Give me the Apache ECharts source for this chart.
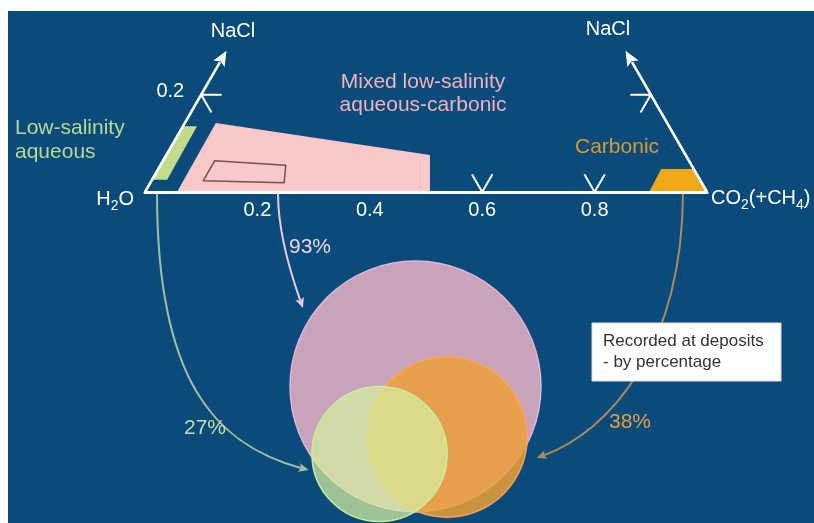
<!DOCTYPE html>
<html>
<head>
<meta charset="utf-8">
<script src="https://cdn.jsdelivr.net/npm/echarts@6/dist/echarts.min.js"></script>
<style>
  html, body { margin: 0; padding: 0; background: #ffffff; }
  #chart { width: 814px; height: 523px; }
</style>
</head>
<body>
<div id="chart"></div>
<script>
// ---- Data -------------------------------------------------------------
// Fluid compositions are [xCO2, xNaCl]; xH2O is the remainder.
const compositionTicks = [0, 0.2, 0.4, 0.6, 0.8, 1];
const naclTicks = [0.2];
const naclAxisMax = 0.29;

const lowSalinityAqueous   = [[0, 0.135], [0.025, 0.135], [0.027, 0.025], [0, 0.025]];
const mixedAqueousCarbonic = [[0.055, 0.142], [0.469, 0.076], [0.507, 0], [0.057, 0]];
const mixedCore            = [[0.092, 0.064], [0.223, 0.055], [0.238, 0.019], [0.092, 0.023]];
const carbonic             = [[0.895, 0.047], [0.953, 0.047], [1, 0], [0.897, 0]];

// Share of deposits where each fluid type is recorded (%)
const fluidTypes   = ['Mixed low-salinity aqueous-carbonic', 'Carbonic', 'Low-salinity aqueous'];
const depositShare = [93, 38, 27];

// ---- Layout -----------------------------------------------------------
const W = 814, H = 523;
const ORIGIN_PX = [145, 192];      // H2O corner
const UNIT_PX = 562;               // pixels per unit of composition
const H3 = Math.sqrt(3) / 2;
const TICK_LEN = 0.035;
const FONT = '"Liberation Sans", Arial, Helvetica, sans-serif';

const toXY = (c, n) => [c + n / 2, n * H3];

// Venn circles (diagram units, y < 0 lies below the composition base)
const vennCentres = [[0.4813, -0.3461], [0.5374, -0.4359], [0.4173, -0.4662]];
const RADIUS_PER_ROOT_PCT = 0.02315;   // circle area proportional to share
const vennStyles = [
  { fill: '#c8a3bb', stroke: '#e4b6d4' },
  { fill: 'rgba(236,160,56,0.85)', stroke: 'rgba(252,164,92,0.95)' },
  { fill: 'rgba(214,240,160,0.72)', stroke: '#c8ee9e' }
];

// Curved arrows from each composition field to its circle
const arrowPaths = [
  { start: 0.2367, c1: [0.2367, -0.055], c2: [0.2509, -0.121], angle: 145.1, gap: 0.021,
    color: '#e6cadb', label: [0.2936, -0.0979], labelColor: '#ead6e2' },
  { start: 0.9573, c1: [0.9555, -0.2811], c2: [0.8238, -0.4270], angle: -13.1, gap: 0.021,
    color: '#a98b5c', label: [0.8630, -0.4093], labelColor: '#e2a040' },
  { start: 0.0214, c1: [0.0214, -0.3345], c2: [0.1246, -0.4502], angle: -167.2, gap: 0.009,
    color: '#a6bea0', label: [0.1068, -0.4199], labelColor: '#c4dea6' }
];

const regionStyles = [
  { fill: '#c2dc8c' },
  { fill: '#f9c8c8' },
  { fill: 'none', stroke: '#7a4c55', lineWidth: 1.5 },
  { fill: '#f0a818' }
];
const regions = [lowSalinityAqueous, mixedAqueousCarbonic, mixedCore, carbonic];

// ---- Chart ------------------------------------------------------------
const chart = echarts.init(document.getElementById('chart'), null, { renderer: 'canvas', width: W, height: H });

const pt = (api, c, n) => api.coord(toXY(c, n));

function renderTicks(params, api) {
  const kids = [];
  const stroke = { stroke: '#ffffff', lineWidth: 2, lineCap: 'round' };
  const seg = (a, b) => kids.push({ type: 'polyline', shape: { points: [a, b] }, style: stroke });
  compositionTicks.filter(t => t > 0 && t < 1).forEach(t => {
    const p = pt(api, t, 0);
    seg(p, pt(api, t - TICK_LEN, TICK_LEN));
    seg(p, pt(api, t, TICK_LEN));
  });
  naclTicks.forEach(n => {
    const l = pt(api, 0, n);
    seg(l, pt(api, TICK_LEN, n));
    seg(l, pt(api, TICK_LEN, n - TICK_LEN));
    const r = pt(api, 1 - n, n);
    seg(r, pt(api, 1 - n - TICK_LEN, n));
    seg(r, pt(api, 1 - n, n - TICK_LEN));
  });
  return { type: 'group', children: kids };
}

function renderSides(params, api) {
  const kids = [];
  const side = (from, to) => {
    const a = pt(api, from[0], from[1]);
    const b = pt(api, to[0], to[1]);
    const dx = b[0] - a[0], dy = b[1] - a[1];
    const len = Math.hypot(dx, dy), ux = dx / len, uy = dy / len;
    const headL = 15, headW = 6.5;
    const base = [b[0] - ux * headL, b[1] - uy * headL];
    kids.push({ type: 'polyline', shape: { points: [a, [base[0] + ux * 2, base[1] + uy * 2]] },
      style: { stroke: '#ffffff', lineWidth: 2.6 } });
    kids.push({ type: 'polygon', shape: { points: [b,
      [base[0] - uy * headW, base[1] + ux * headW],
      [base[0] + ux * 3, base[1] + uy * 3],
      [base[0] + uy * headW, base[1] - ux * headW]] },
      style: { fill: '#ffffff' } });
  };
  side([0, 0], [0, naclAxisMax]);
  side([1, 0], [1 - naclAxisMax, naclAxisMax]);
  naclTicks.forEach(n => {
    const p = pt(api, 0, n);
    kids.push({ type: 'text', x: p[0] - 17, y: p[1] - 3,
      style: { text: n.toFixed(1), fill: '#ffffff', fontSize: 20, fontFamily: FONT,
        align: 'right', verticalAlign: 'middle' } });
  });
  return { type: 'group', children: kids };
}

function renderRegion(params, api) {
  const i = params.dataIndex;
  const points = regions[i].map(d => pt(api, d[0], d[1]));
  return { type: 'polygon', shape: { points }, style: Object.assign({ lineJoin: 'round' }, regionStyles[i]) };
}

function circleRadius(share) { return RADIUS_PER_ROOT_PCT * Math.sqrt(share); }

function renderCircle(params, api) {
  const i = params.dataIndex;
  const c = api.coord(vennCentres[i]);
  const r = api.size([circleRadius(depositShare[i]), 0])[0];
  return { type: 'circle', shape: { cx: c[0], cy: c[1], r },
    style: { fill: vennStyles[i].fill, stroke: vennStyles[i].stroke, lineWidth: 1.5 } };
}

function renderArrow(params, api) {
  const i = params.dataIndex;
  const a = arrowPaths[i];
  const ctr = vennCentres[i];
  const rr = circleRadius(depositShare[i]) + a.gap;
  const th = a.angle * Math.PI / 180;
  const endD = [ctr[0] + rr * Math.cos(th), ctr[1] + rr * Math.sin(th)];
  const p0 = api.coord([a.start, -0.003]);
  const p1 = api.coord(a.c1);
  const p2 = api.coord(a.c2);
  const p3 = api.coord(endD);
  const dx = p3[0] - p2[0], dy = p3[1] - p2[1];
  const len = Math.hypot(dx, dy), ux = dx / len, uy = dy / len;
  const headL = 10, headW = 4.5;
  const base = [p3[0] - ux * headL, p3[1] - uy * headL];
  const lp = api.coord(a.label);
  return { type: 'group', children: [
    { type: 'bezierCurve', shape: { x1: p0[0], y1: p0[1], x2: base[0] + ux * 2, y2: base[1] + uy * 2,
        cpx1: p1[0], cpy1: p1[1], cpx2: p2[0], cpy2: p2[1] },
      style: { stroke: a.color, lineWidth: 2, fill: null } },
    { type: 'polygon', shape: { points: [p3,
        [base[0] - uy * headW, base[1] + ux * headW],
        [base[0] + ux * 2, base[1] + uy * 2],
        [base[0] + uy * headW, base[1] - ux * headW]] },
      style: { fill: a.color } },
    { type: 'text', x: lp[0], y: lp[1],
      style: { text: depositShare[i] + '%', fill: a.labelColor, fontSize: 21, fontFamily: FONT,
        align: 'center', verticalAlign: 'middle' } }
  ] };
}

const xMin = -ORIGIN_PX[0] / UNIT_PX, xMax = (W - ORIGIN_PX[0]) / UNIT_PX;
const yMin = -(H - ORIGIN_PX[1]) / UNIT_PX, yMax = ORIGIN_PX[1] / UNIT_PX;

const white = '#ffffff';
const sub = { fontSize: 14, fontFamily: FONT, fill: white, lineHeight: 14, verticalAlign: 'bottom' };
const norm = { fontSize: 20, fontFamily: FONT, fill: white, lineHeight: 28, verticalAlign: 'middle' };

chart.setOption({
  animation: false,
  backgroundColor: '#ffffff',
  grid: [
    { left: 0, top: 0, width: W, height: H, outerBoundsMode: 'none' },
    { left: ORIGIN_PX[0], top: ORIGIN_PX[1] - 1, width: UNIT_PX, height: 1, outerBoundsMode: 'none' }
  ],
  xAxis: [
    { gridIndex: 0, type: 'value', min: xMin, max: xMax, show: false },
    { gridIndex: 1, type: 'value', min: compositionTicks[0], max: compositionTicks[compositionTicks.length - 1],
      interval: 0.2, z: 4,
      axisLine: { show: true, onZero: false, lineStyle: { color: white, width: 3 } },
      axisTick: { show: false }, splitLine: { show: false },
      axisLabel: { color: white, fontSize: 20, fontFamily: FONT, margin: 8,
        formatter: v => (v > 0.001 && v < 0.999) ? v.toFixed(1) : '' } }
  ],
  yAxis: [
    { gridIndex: 0, type: 'value', min: yMin, max: yMax, show: false },
    { gridIndex: 1, type: 'value', min: 0, max: 1, show: false }
  ],
  series: [
    { type: 'custom', name: 'ticks', xAxisIndex: 0, yAxisIndex: 0, z: 1, silent: true,
      data: [0], renderItem: renderTicks },
    { type: 'custom', name: 'fields', xAxisIndex: 0, yAxisIndex: 0, z: 2, silent: true,
      data: regions.map((r, i) => i), renderItem: renderRegion },
    { type: 'custom', name: 'sides', xAxisIndex: 0, yAxisIndex: 0, z: 3, silent: true,
      data: [0], renderItem: renderSides },
    { type: 'custom', name: 'deposits', xAxisIndex: 0, yAxisIndex: 0, z: 5, silent: true,
      data: depositShare, renderItem: renderCircle },
    { type: 'custom', name: 'links', xAxisIndex: 0, yAxisIndex: 0, z: 6, silent: true,
      data: depositShare, renderItem: renderArrow }
  ],
  graphic: { elements: [
    { type: 'rect', z: 0, silent: true, shape: { x: 8, y: 11, width: W - 8, height: H - 11 },
      style: { fill: '#0a4b7c' } },
    { type: 'text', z: 10, x: 233, y: 31,
      style: { text: 'NaCl', fill: white, fontSize: 20, fontFamily: FONT, align: 'center', verticalAlign: 'middle' } },
    { type: 'text', z: 10, x: 608, y: 29,
      style: { text: 'NaCl', fill: white, fontSize: 20, fontFamily: FONT, align: 'center', verticalAlign: 'middle' } },
    { type: 'text', z: 10, x: 134, y: 199,
      style: { text: '{n|H}{s|2}{n|O}', align: 'right', verticalAlign: 'middle', rich: { n: norm, s: sub } } },
    { type: 'text', z: 10, x: 711, y: 198,
      style: { text: '{n|CO}{s|2}{n|(+CH}{s|4}{n|)}', align: 'left', verticalAlign: 'middle', rich: { n: norm, s: sub } } },
    { type: 'text', z: 10, x: 423, y: 93.5,
      style: { text: 'Mixed low-salinity\naqueous-carbonic', fill: '#f2b2bb', fontSize: 21, lineHeight: 23,
        fontFamily: FONT, align: 'center', verticalAlign: 'middle' } },
    { type: 'text', z: 10, x: 15, y: 140,
      style: { text: 'Low-salinity\naqueous', fill: '#b9d992', fontSize: 21, lineHeight: 24,
        fontFamily: FONT, align: 'left', verticalAlign: 'middle' } },
    { type: 'text', z: 10, x: 575, y: 147,
      style: { text: 'Carbonic', fill: '#d99a30', fontSize: 21, fontFamily: FONT, align: 'left', verticalAlign: 'middle' } },
    { type: 'rect', z: 10, shape: { x: 592, y: 323, width: 189, height: 58 },
      style: { fill: '#ffffff', stroke: '#dddddd', lineWidth: 1 } },
    { type: 'text', z: 11, x: 603, y: 351.5,
      style: { text: 'Recorded at deposits\n- by percentage', fill: '#333333', fontSize: 17, lineHeight: 21,
        fontFamily: FONT, align: 'left', verticalAlign: 'middle' } }
  ] }
});
</script>
</body>
</html>
